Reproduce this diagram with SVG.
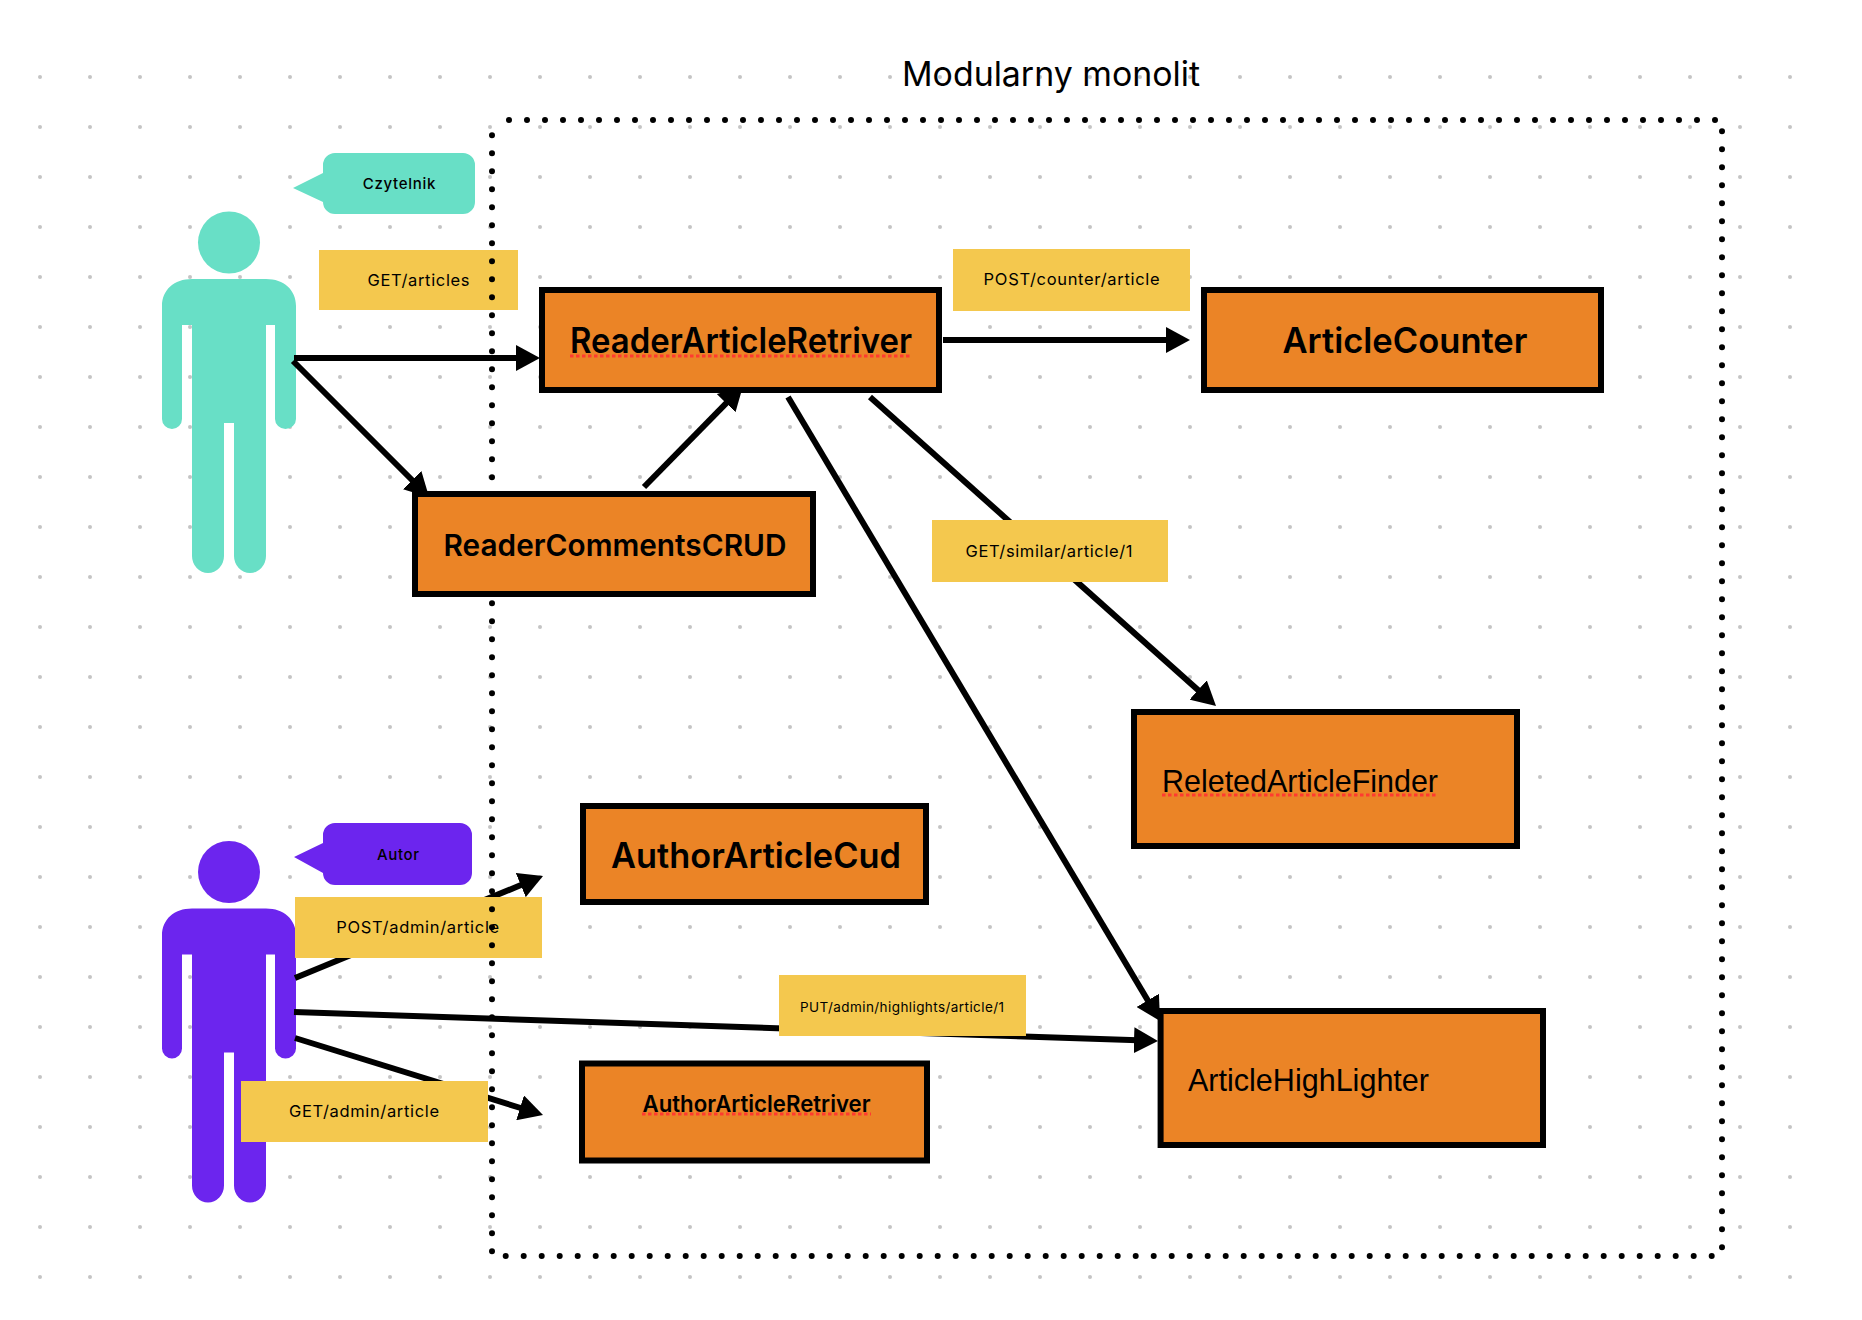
<svg xmlns="http://www.w3.org/2000/svg" width="1862" height="1320" viewBox="0 0 1862 1320">
<style>
.box{fill:#EB8426;stroke:#000;stroke-width:6}
.lab{fill:#F4C84E}
.edge{stroke:#000;stroke-width:6;fill:none}
.t{font-family:Inter,"Liberation Sans",sans-serif;fill:#000;text-anchor:middle}
.h{font-family:"Liberation Sans",Arial,sans-serif;fill:#000}
.sq{stroke:#ff3b30;stroke-width:3;stroke-dasharray:3.500 2.500;fill:none}
</style>
<defs>
<pattern id="grid" x="15" y="52" width="50" height="50" patternUnits="userSpaceOnUse"><circle cx="25" cy="25" r="2" fill="#c4c4c4"/></pattern>
<marker id="a" markerUnits="userSpaceOnUse" markerWidth="26" markerHeight="26" refX="4" refY="13" orient="auto"><path d="M0 0L24 13L0 26Z"/></marker>
<g id="man"><circle cx="229" cy="242.500" r="31"/><path d="M192 279H266C284 279 296 290 296 306V419A10.500 10 0 0 1 275 419V325H266V556A16 17 0 0 1 234 556V423H224V556A16 17 0 0 1 192 556V325H182V419A10 10 0 0 1 162 419V306C162 290 174 279 192 279Z"/></g>
</defs>
<rect x="15" y="52" width="1810" height="1250" fill="url(#grid)"/>
<g id="reader" fill="#68DFC6"><use href="#man"/>
<path d="M335 153H463A12 12 0 0 1 475 165V202A12 12 0 0 1 463 214H335A12 12 0 0 1 323 202L293 188L323 173V165A12 12 0 0 1 335 153Z"/>
<text class="t" x="399" y="189" font-size="15" font-weight="500" textLength="72.600">Czytelnik</text></g>
<g id="author" fill="#6C25EE"><use href="#man" y="629.500"/>
<path d="M335 823H460A12 12 0 0 1 472 835V873A12 12 0 0 1 460 885H335A12 12 0 0 1 323 873L294 857L323 843V835A12 12 0 0 1 335 823Z"/>
<text class="t" x="398" y="860" font-size="15" font-weight="500" textLength="42">Autor</text></g>
<g id="connectors">
<line class="edge" x1="294" y1="358" x2="520" y2="358" marker-end="url(#a)"/>
<line class="edge" x1="293" y1="361" x2="415" y2="483" marker-end="url(#a)"/>
<line class="edge" x1="644" y1="487" x2="729" y2="400.300" marker-end="url(#a)"/>
<line class="edge" x1="943" y1="340" x2="1170" y2="340" marker-end="url(#a)"/>
<line class="edge" x1="870" y1="397" x2="1201.100" y2="692.700" marker-end="url(#a)"/>
<line class="edge" x1="788" y1="397" x2="1149.800" y2="1003.800" marker-end="url(#a)"/>
<line class="edge" x1="294" y1="1012" x2="1138" y2="1040.300" marker-end="url(#a)"/>
<line class="edge" x1="295" y1="978" x2="524.500" y2="883.600" marker-end="url(#a)"/>
<line class="edge" x1="295" y1="1038" x2="523.900" y2="1109" marker-end="url(#a)"/>
</g>
<g id="labels">
<g id="l1"><rect class="lab" x="319" y="250" width="199" height="60"/><text class="t" x="418.500" y="286" font-size="16.500" textLength="102">GET/articles</text></g>
<g id="l2"><rect class="lab" x="953" y="249" width="237" height="62"/><text class="t" x="1071.600" y="285" font-size="16.500" textLength="176">POST/counter/article</text></g>
<g id="l3"><rect class="lab" x="932" y="520" width="236" height="62"/><text class="t" x="1049" y="557" font-size="16.500" textLength="167">GET/similar/article/1</text></g>
<g id="l4"><rect class="lab" x="295" y="897" width="247" height="61"/><text class="t" x="417.700" y="933" font-size="16.500" textLength="163">POST/admin/article</text></g>
<g id="l5"><rect class="lab" x="241" y="1081" width="247" height="61"/><text class="t" x="364" y="1117" font-size="16.500" textLength="150">GET/admin/article</text></g>
<g id="l6"><rect class="lab" x="779" y="975" width="247" height="61"/><text class="t" x="902" y="1011.500" font-size="13.500" textLength="204">PUT/admin/highlights/article/1</text></g>
</g>
<path id="frame" d="M509 120H1716M1722 131.300V1249M505.700 1256H1713M492 135.300V1252" fill="none" stroke="#000" stroke-width="6" stroke-linecap="round" stroke-dasharray="0 18"/>
<text id="title" class="t" x="1051" y="85.500" font-size="34" textLength="298" lengthAdjust="spacingAndGlyphs">Modularny monolit</text>
<g id="n1"><rect class="box" x="542" y="290" width="397" height="100"/><text class="t" x="741" y="353" font-size="35" font-weight="600" textLength="342" lengthAdjust="spacingAndGlyphs">ReaderArticleRetriver</text><line class="sq" x1="570" y1="356" x2="912" y2="356"/></g>
<g id="n2"><rect class="box" x="415" y="494" width="398" height="100"/><text class="t" x="615" y="556" font-size="30" font-weight="600" textLength="343" lengthAdjust="spacingAndGlyphs">ReaderCommentsCRUD</text></g>
<g id="n3"><rect class="box" x="1204" y="290" width="397" height="100"/><text class="t" x="1405" y="353" font-size="35" font-weight="600" textLength="245" lengthAdjust="spacingAndGlyphs">ArticleCounter</text></g>
<g id="n4"><rect class="box" x="1134" y="712" width="383" height="134"/><text class="h" x="1162" y="792" font-size="30.500" textLength="276" lengthAdjust="spacingAndGlyphs">ReletedArticleFinder</text><line class="sq" x1="1162" y1="795" x2="1438" y2="795"/></g>
<g id="n5"><rect class="box" x="1160.600" y="1011" width="382.400" height="134"/><text class="h" x="1188" y="1091" font-size="30.500" textLength="241" lengthAdjust="spacingAndGlyphs">ArticleHighLighter</text></g>
<g id="n6"><rect class="box" x="583" y="806" width="343" height="96"/><text class="t" x="756" y="868" font-size="35" font-weight="600" textLength="290" lengthAdjust="spacingAndGlyphs">AuthorArticleCud</text></g>
<g id="n7"><rect class="box" x="582" y="1063.500" width="345" height="97"/><text class="t" x="756.500" y="1112" font-size="22.500" font-weight="600" textLength="228" lengthAdjust="spacingAndGlyphs">AuthorArticleRetriver</text><line class="sq" x1="642" y1="1114" x2="871" y2="1114"/></g>
</svg>
